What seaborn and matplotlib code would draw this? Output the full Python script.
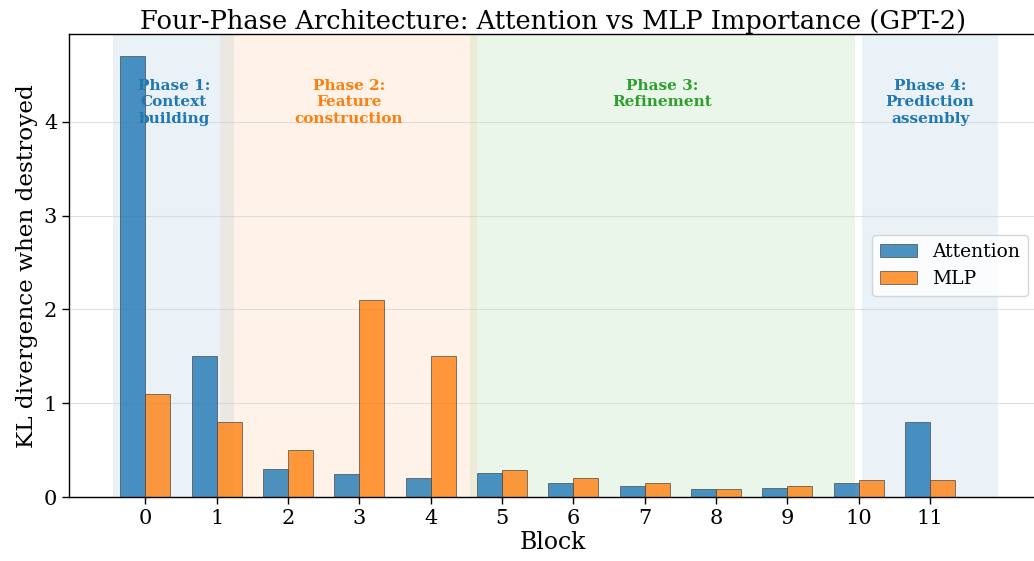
import pandas as pd
import matplotlib.pyplot as plt
import seaborn as sns

sns.set_theme(style="whitegrid")
plt.rcParams['font.family'] = ['DejaVu Serif']
plt.rcParams.update({"text.color": "black", "axes.labelcolor": "black",
                     "xtick.color": "black", "ytick.color": "black"})

# Data
blocks = list(range(12))
attention_kl = [4.7, 1.5, 0.3, 0.25, 0.2, 0.26, 0.15, 0.12, 0.09, 0.10, 0.15, 0.8]
mlp_kl = [1.1, 0.8, 0.5, 2.1, 1.5, 0.29, 0.2, 0.15, 0.09, 0.12, 0.18, 0.18]

phase_labels = ["Phase 1:\nContext\nbuilding", "Phase 2:\nFeature\nconstruction",
                "Phase 3:\nRefinement", "Phase 4:\nPrediction\nassembly"]
phase_spans = [(-0.45, 1.25), (1.05, 4.65), (4.55, 9.95), (10.05, 11.95)]
phase_colors = ["#1f77b4", "#ff7f0e", "#2ca02c", "#1f77b4"]

df = pd.DataFrame({
    "Block": blocks * 2,
    "KL": attention_kl + mlp_kl,
    "Component": ["Attention"] * 12 + ["MLP"] * 12,
})

fig, ax = plt.subplots(figsize=(10.34, 5.61), dpi=100)
fig.subplots_adjust(left=0.0667, right=1.003, bottom=0.114, top=0.939)

# phase shading
for (x0, x1), c in zip(phase_spans, phase_colors):
    ax.axvspan(x0, x1, color=c, alpha=0.09, zorder=0, lw=0)

sns.barplot(data=df, x="Block", y="KL", hue="Component", ax=ax,
            palette=["#1f77b4", "#ff7f0e"], saturation=1, width=0.7, alpha=0.8,
            edgecolor="#444444", linewidth=0.6, zorder=2)

ymax = max(attention_kl) * 1.05
for (x0, x1), c, lab in zip(phase_spans, phase_colors, phase_labels):
    ax.text((x0 + x1) / 2, ymax * 0.904, lab, ha="center", va="top",
            color=c, fontsize=11, fontweight="bold", linespacing=1.25, zorder=3)

ax.set_xlim(-1.07, 12.5)
ax.set_ylim(0, ymax)
ax.set_yticks([0, 1, 2, 3, 4])
ax.grid(axis="y", color="#cccccc", alpha=0.6, lw=0.8)
ax.grid(axis="x", visible=False)
ax.set_axisbelow(True)
for s in ax.spines.values():
    s.set_color("black")
    s.set_linewidth(1.0)
ax.tick_params(axis="both", labelsize=15, length=5, width=1, color="black",
               bottom=True, left=True)
ax.set_xlabel("Block", fontsize=17, labelpad=2)
ax.set_ylabel("KL divergence when destroyed", fontsize=16.7)
ax.set_title("Four-Phase Architecture: Attention vs MLP Importance (GPT-2)", fontsize=18.5, pad=4)
ax.legend(loc="center right", fontsize=13.5, frameon=True, title=None)

plt.savefig("out.png", dpi=100)
